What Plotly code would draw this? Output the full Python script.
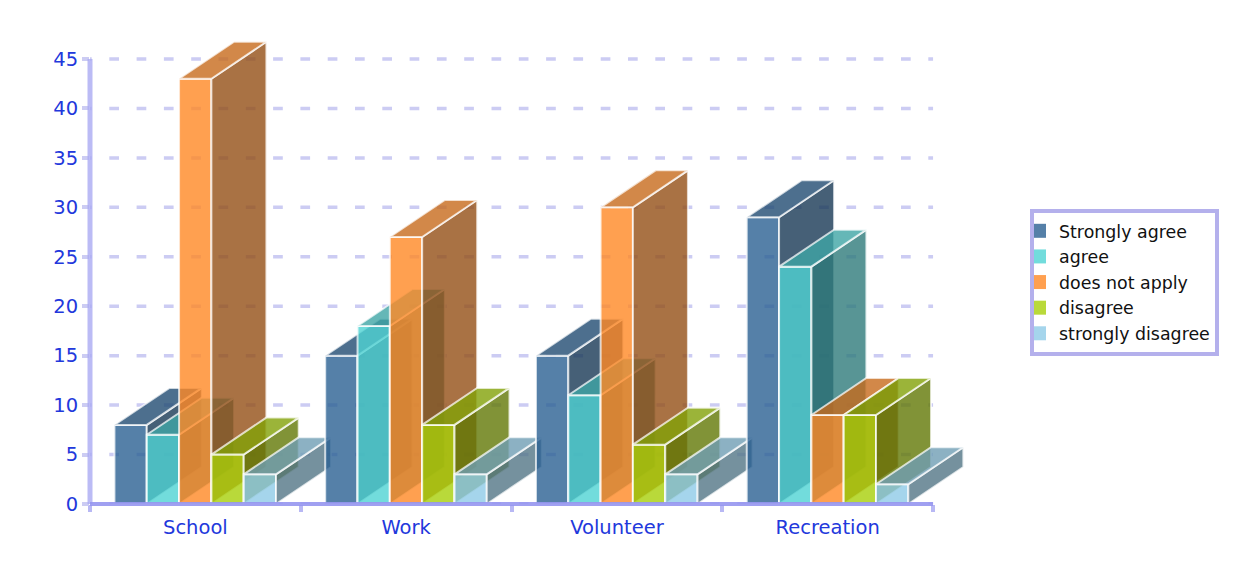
import plotly.graph_objects as go

categories = ["School", "Work", "Volunteer", "Recreation"]
strongly_agree = [8, 15, 15, 29]
agree = [7, 18, 11, 24]
does_not_apply = [43, 27, 30, 9]
disagree = [5, 8, 6, 9]
strongly_disagree = [3, 3, 3, 2]

series_names = ["Strongly agree", "agree", "does not apply", "disagree", "strongly disagree"]
series_values = [strongly_agree, agree, does_not_apply, disagree, strongly_disagree]
series_rgb = [(42, 96, 146), (79, 211, 211), (255, 136, 36), (167, 207, 9), (142, 202, 231)]
y_ticks = [0, 5, 10, 15, 20, 25, 30, 35, 40, 45]

ALPHA = 0.8
SIDE_SHADE = 0.58
TOP_SHADE = 0.78
BAR_START = 0.116
BAR_WIDTH = 0.1533
DEPTH_X = 0.261
DEPTH_Y = 3.74
EDGE = "rgba(255,255,255,0.72)"
AXIS_BLUE = "#2238DC"
X_MAX = 4.18
Y_MAX = 47.426
X_AXIS_END = 4


def rgba(rgb, factor=1.0):
    r, g, b = [round(c * factor) for c in rgb]
    return f"rgba({r},{g},{b},{ALPHA})"


def face(xs, ys, fill):
    return go.Scatter(
        x=xs + [xs[0]], y=ys + [ys[0]], mode="lines", fill="toself", fillcolor=fill,
        line=dict(color=EDGE, width=2), cliponaxis=False, showlegend=False, hoverinfo="skip",
    )


fig = go.Figure()
for c in range(len(categories)):
    for s, values in enumerate(series_values):
        v = values[c]
        x0 = c + BAR_START + s * BAR_WIDTH
        x1 = x0 + BAR_WIDTH
        rgb = series_rgb[s]
        fig.add_trace(face([x0, x1, x1, x0], [0, 0, v, v], rgba(rgb)))
        fig.add_trace(face([x1, x1 + DEPTH_X, x1 + DEPTH_X, x1], [0, DEPTH_Y, v + DEPTH_Y, v], rgba(rgb, SIDE_SHADE)))
        fig.add_trace(face([x0, x1, x1 + DEPTH_X, x0 + DEPTH_X], [v, v, v + DEPTH_Y, v + DEPTH_Y], rgba(rgb, TOP_SHADE)))

for name, rgb in zip(series_names, series_rgb):
    fig.add_trace(go.Scatter(
        x=[None], y=[None], mode="markers", name=name,
        marker=dict(symbol="square", size=14, color=rgba(rgb)),
    ))

shapes = [
    dict(type="line", layer="below", xref="x", yref="y", x0=0, x1=X_AXIS_END, y0=t, y1=t,
         line=dict(color="#CCCCF3", width=3.5, dash="1.7px,17.6px,8px,0px"))
    for t in y_ticks
]
shapes.append(dict(type="line", layer="above", xref="paper", yref="y", x0=0, x1=0, y0=0, y1=45,
                   line=dict(color="rgba(170,170,242,0.8)", width=5)))
shapes.append(dict(type="line", layer="above", xref="x", yref="paper", x0=0, x1=X_AXIS_END, y0=0, y1=0,
                   line=dict(color="rgba(150,150,240,0.9)", width=4)))

fig.update_layout(
    width=1218, height=545, autosize=False,
    margin=dict(l=82, r=255, t=27, b=49),
    paper_bgcolor="white", plot_bgcolor="white",
    font=dict(family="DejaVu Sans", color=AXIS_BLUE),
    showlegend=True,
    shapes=shapes,
    legend=dict(
        xref="container", yref="container",
        x=(1030 - 8) / 1218, y=(545 - (282.5 - 8)) / 545, yanchor="middle", xanchor="left",
        bgcolor="white", bordercolor="#B4B0EC", borderwidth=4,
        font=dict(size=17.4, color="#111111", family="DejaVu Sans"),
        indentation=-15, itemclick=False, itemdoubleclick=False,
    ),
    xaxis=dict(
        range=[0, X_MAX], tickmode="array", tickvals=[i + 0.5 for i in range(4)], ticktext=categories,
        ticks="", showgrid=False, zeroline=False, showline=False,
        tickfont=dict(size=19.5, color=AXIS_BLUE), ticklabelstandoff=9,
        minor=dict(tickmode="array", tickvals=[0, 1, 2, 3, 4], ticks="outside", ticklen=7,
                   tickwidth=4, tickcolor="#B8B8F4", showgrid=False),
    ),
    yaxis=dict(
        range=[0, Y_MAX], tickmode="array", tickvals=y_ticks,
        ticks="outside", ticklen=7, tickwidth=3.5, tickcolor="#CCCCF3",
        showgrid=False, zeroline=False, showline=False,
        tickfont=dict(size=19.5, color=AXIS_BLUE), ticklabelstandoff=0,
    ),
)

fig.write_html("out.html")
